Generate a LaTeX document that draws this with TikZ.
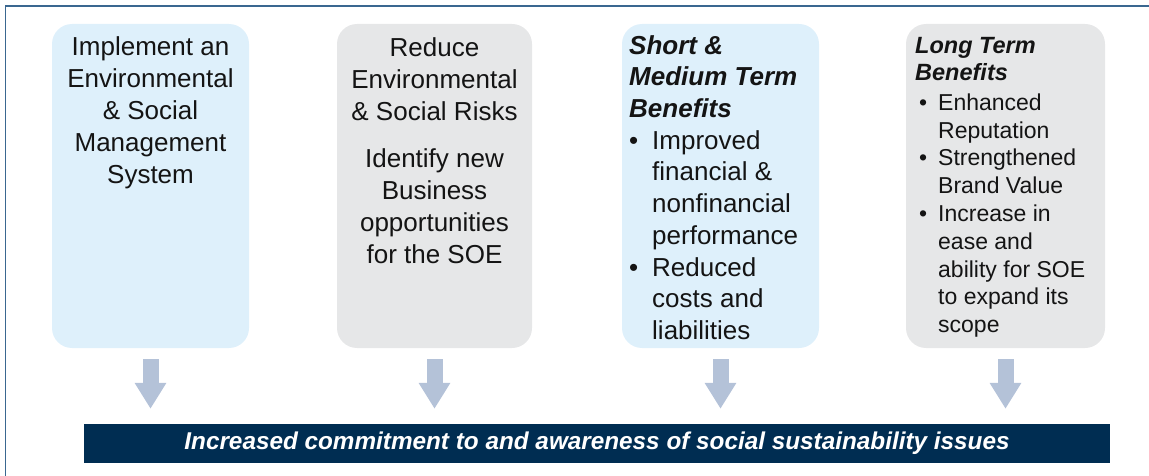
\documentclass[tikz,border=0pt]{standalone}
\usepackage{fontspec}
\setmainfont{Liberation Sans}
\usetikzlibrary{arrows.meta}
\definecolor{lightblue}{HTML}{DEF0FB}
\definecolor{lightgray}{HTML}{E6E7E8}
\definecolor{arrowblue}{HTML}{B4C2D8}
\definecolor{navy}{HTML}{002D52}
\definecolor{framecol}{HTML}{3A6790}
\definecolor{txt}{HTML}{141414}
\begin{document}
\begin{tikzpicture}[x=1pt,y=-1pt,
  card/.style={rounded corners=20pt, minimum height=324pt, inner sep=0pt, draw=none},
  bluecard/.style={card, fill=lightblue},
  graycard/.style={card, fill=lightgray},
  bigtext/.style={font=\fontsize{26}{32}\selectfont, text=txt, inner sep=0pt},
  bullettext/.style={font=\fontsize{26}{31.7}\selectfont, text=txt, inner sep=0pt, align=left, anchor=north west},
  smalltext/.style={font=\fontsize{23}{27.8}\selectfont, text=txt, inner sep=0pt, align=left, anchor=north west},
  bannertext/.style={font=\fontsize{24.3}{28}\selectfont\bfseries\itshape, text=white, inner sep=0pt},
  downarrow/.style={draw=arrowblue, line width=16pt, -{Triangle[width=30pt,length=26pt]}, shorten <=11pt, shorten >=15pt},
]
\useasboundingbox (0,0) rectangle (1149,476);
\draw[framecol, line width=1.5pt] (5.5,476) -- (5.5,6) -- (1149,6);

\node[bluecard, minimum width=197pt] (b1) at (150.5,186) {};
\node[graycard, minimum width=195pt] (b2) at (434.5,186) {};
\node[bluecard, minimum width=197pt] (b3) at (720.5,186) {};
\node[graycard, minimum width=199pt] (b4) at (1005.5,186) {};

\node[bigtext, align=center, anchor=north] (t1) at (150.5,32.6)
  {\strut Implement an\\Environmental\\\& Social\\Management\\System};
\node[bigtext, align=center, anchor=north] (t2) at (434.5,33.6)
  {\strut Reduce\\Environmental\\\& Social Risks\\[15pt]Identify new\\Business\\opportunities\\for the SOE};
\node[bullettext] (t3) at (629,31.8)
  {\strut\textbf{\textit{Short \&}}\\
   \textbf{\textit{Medium Term}}\\
   \textbf{\textit{Benefits}}\\
   \makebox[23pt][l]{•}Improved\\
   \hspace*{23pt}financial \&\\
   \hspace*{23pt}nonfinancial\\
   \hspace*{23pt}performance\\
   \makebox[23pt][l]{•}Reduced\\
   \hspace*{23pt}costs and\\
   \hspace*{23pt}liabilities};
\node[smalltext] (t4) at (915,33.5)
  {\strut{\fontsize{23.5}{27.8}\selectfont\textbf{\textit{Long Term}}}\\
   {\fontsize{23.5}{27.8}\selectfont\textbf{\textit{Benefits}}}\\[1.5pt]
   \hspace*{4pt}\makebox[19pt][l]{•}Enhanced\\
   \hspace*{23pt}Reputation\\
   \hspace*{4pt}\makebox[19pt][l]{•}Strengthened\\
   \hspace*{23pt}Brand Value\\
   \hspace*{4pt}\makebox[19pt][l]{•}Increase in\\
   \hspace*{23pt}ease and\\
   \hspace*{23pt}ability for SOE\\
   \hspace*{23pt}to expand its\\
   \hspace*{23pt}scope};

\node[fill=navy, minimum width=1026pt, minimum height=39pt, inner sep=0pt] (banner) at (597,443.5) {};
\node[bannertext, anchor=base] (bt) at (597,449)
  {Increased commitment to and awareness of social sustainability issues};

\draw[downarrow] (b1.south) -- (b1.south |- banner.north);
\draw[downarrow] (b2.south) -- (b2.south |- banner.north);
\draw[downarrow] (b3.south) -- (b3.south |- banner.north);
\draw[downarrow] (b4.south) -- (b4.south |- banner.north);
\end{tikzpicture}
\end{document}
